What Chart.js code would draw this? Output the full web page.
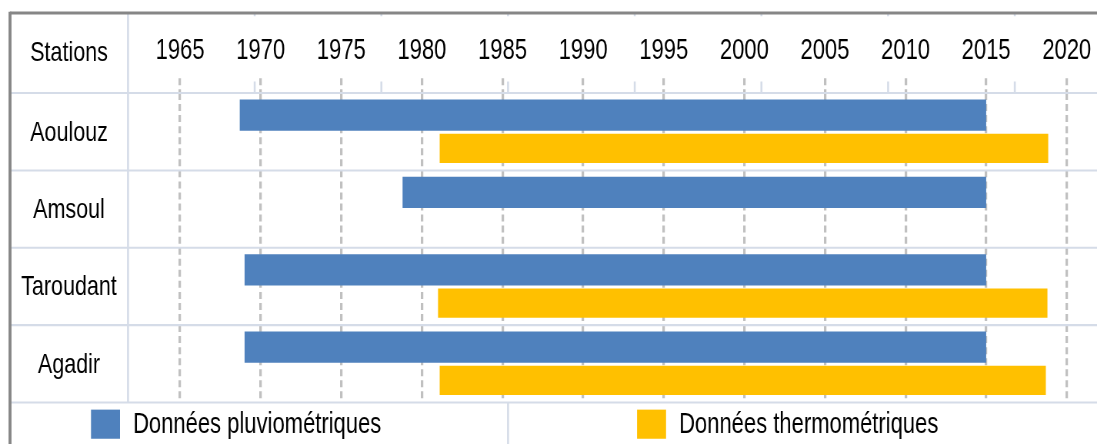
<!DOCTYPE html>
<html>
<head>
<meta charset="utf-8">
<script src="https://cdn.jsdelivr.net/npm/chart.js@4"></script>
<style>
    html, body { margin: 0; padding: 0; background: #fff; }
    #page { width: 1097px; height: 444px; position: relative; }
    /* the chart is laid out 342px high and stretched to 444px */
    #wrap { position: absolute; left: 0; top: 0; width: 1097px; height: 342px; transform: scaleY(1.2982); transform-origin: 0 0; }
</style>
</head>
<body>
<div id="page"><div id="wrap"><canvas id="periodChart"></canvas></div></div>
<script>
// Stations and observation periods (years, start/end)
const stations = ['Aoulouz', 'Amsoul', 'Taroudant', 'Agadir'];
const yearTicks = [1965, 1970, 1975, 1980, 1985, 1990, 1995, 2000, 2005, 2010, 2015, 2020];
const pluvioPeriods = [[1968.7, 2015], [1978.8, 2015], [1969, 2015], [1969, 2015]];
const thermoPeriods = [[1981.1, 2018.85], null, [1981, 2018.8], [1981.1, 2018.7]];
const seriesLabels = ['Données pluviométriques', 'Données thermométriques'];

const FONT = '"Liberation Sans", Arial, sans-serif';
const TEXT = '#000';
const LINE = '#d5dce8';
const FRAME = '#868686';
const COL_W = 126.67;

// table frame, header, station names and the bottom legend row
const tablePlugin = {
    id: 'stationTable',
    beforeDatasetsDraw(chart) {
        const ctx = chart.ctx;
        const area = chart.chartArea;
        const y = chart.scales.y;
        const frameLeft = y.left;
        const frameTop = chart.options.layout.padding.top;

        ctx.save();
        ctx.strokeStyle = LINE;

        // horizontal row lines
        ctx.lineWidth = 1.6;
        ctx.beginPath();
        const rows = [area.top];
        for (let i = 0; i < stations.length - 1; i++) {
            rows.push((y.getPixelForValue(i) + y.getPixelForValue(i + 1)) / 2);
        }
        rows.push(area.bottom);
        rows.forEach(function (py) {
            ctx.moveTo(frameLeft, py);
            ctx.lineTo(chart.width, py);
        });
        ctx.stroke();

        // vertical lines: stations column, header ticks, legend divider
        ctx.lineWidth = 2;
        ctx.beginPath();
        ctx.moveTo(area.left, frameTop);
        ctx.lineTo(area.left, area.bottom);
        for (let k = 1; k <= 7; k++) {
            const px = area.left + k * COL_W;
            ctx.moveTo(px, frameTop);
            ctx.lineTo(px, frameTop + 2.5);
            ctx.moveTo(px, area.top - 9);
            ctx.lineTo(px, area.top);
        }
        const divX = area.left + 3 * COL_W;
        ctx.moveTo(divX, area.bottom);
        ctx.lineTo(divX, chart.height);
        ctx.stroke();

        // first column: header and station names
        const cx = (y.left + y.right) / 2;
        ctx.fillStyle = TEXT;
        ctx.font = '21.5px ' + FONT;
        ctx.textAlign = 'center';
        ctx.textBaseline = 'middle';
        ctx.fillText('Stations', cx, 41);
        chart.data.labels.forEach(function (name, i) {
            ctx.fillText(name, cx, y.getPixelForValue(i) + 1);
        });
        ctx.restore();
    },
    afterDraw(chart) {
        const ctx = chart.ctx;
        const area = chart.chartArea;
        const frameLeft = chart.scales.y.left;
        const frameTop = chart.options.layout.padding.top;

        // legend
        const boxX = [91, 637];
        const cy = (area.bottom + chart.height) / 2 + 0.5;
        ctx.save();
        ctx.font = '22px ' + FONT;
        ctx.textBaseline = 'middle';
        ctx.textAlign = 'left';
        chart.data.datasets.forEach(function (ds, i) {
            ctx.fillStyle = ds.backgroundColor;
            ctx.fillRect(boxX[i], cy - 11.2, 29, 22.4);
            ctx.fillStyle = TEXT;
            ctx.fillText(ds.label, boxX[i] + 42, cy + 0.5);
        });

        // outer frame (top and left)
        ctx.strokeStyle = FRAME;
        ctx.lineWidth = 2.3;
        ctx.beginPath();
        ctx.moveTo(frameLeft, frameTop);
        ctx.lineTo(chart.width, frameTop);
        ctx.stroke();
        ctx.lineWidth = 3;
        ctx.beginPath();
        ctx.moveTo(frameLeft, frameTop - 1);
        ctx.lineTo(frameLeft, chart.height);
        ctx.stroke();
        ctx.restore();
    }
};

new Chart(document.getElementById('periodChart'), {
    type: 'bar',
    data: {
        labels: stations,
        datasets: [{
            label: seriesLabels[0],
            data: pluvioPeriods,
            backgroundColor: '#4f81bd',
            categoryPercentage: 0.86,
            barPercentage: 0.94
        }, {
            label: seriesLabels[1],
            data: thermoPeriods,
            backgroundColor: '#ffc000',
            categoryPercentage: 0.86,
            barPercentage: 0.88
        }]
    },
    options: {
        indexAxis: 'y',
        responsive: true,
        maintainAspectRatio: false,
        animation: false,
        devicePixelRatio: 1.3,
        layout: { padding: { left: 10, top: 10, right: 0, bottom: 32.4 } },
        plugins: {
            legend: { display: false },
            tooltip: { enabled: false }
        },
        scales: {
            x: {
                type: 'linear',
                position: 'top',
                min: 1961.77,
                max: 2021.88,
                afterBuildTicks: function (scale) {
                    scale.ticks = yearTicks.map(function (v) { return { value: v }; });
                },
                afterFit: function (scale) {
                    scale.height = 61.6;
                    scale.paddingLeft = 0;
                    scale.paddingRight = 0;
                },
                ticks: {
                    color: TEXT,
                    font: { family: FONT, size: 22 },
                    padding: 7.5,
                    maxRotation: 0,
                    autoSkip: false,
                    callback: function (v) { return String(v); }
                },
                grid: {
                    color: '#c0c0c0',
                    lineWidth: 2.5,
                    tickLength: 11.5,
                    tickColor: '#c0c0c0',
                    tickWidth: 2.5,
                    tickBorderDash: [5.4, 3.1]
                },
                border: { display: false, dash: [5.4, 3.1] }
            },
            y: {
                afterFit: function (scale) { scale.width = 118; },
                ticks: { display: false },
                grid: { display: false, drawTicks: false },
                border: { display: false }
            }
        }
    },
    plugins: [tablePlugin]
});
</script>
</body>
</html>
